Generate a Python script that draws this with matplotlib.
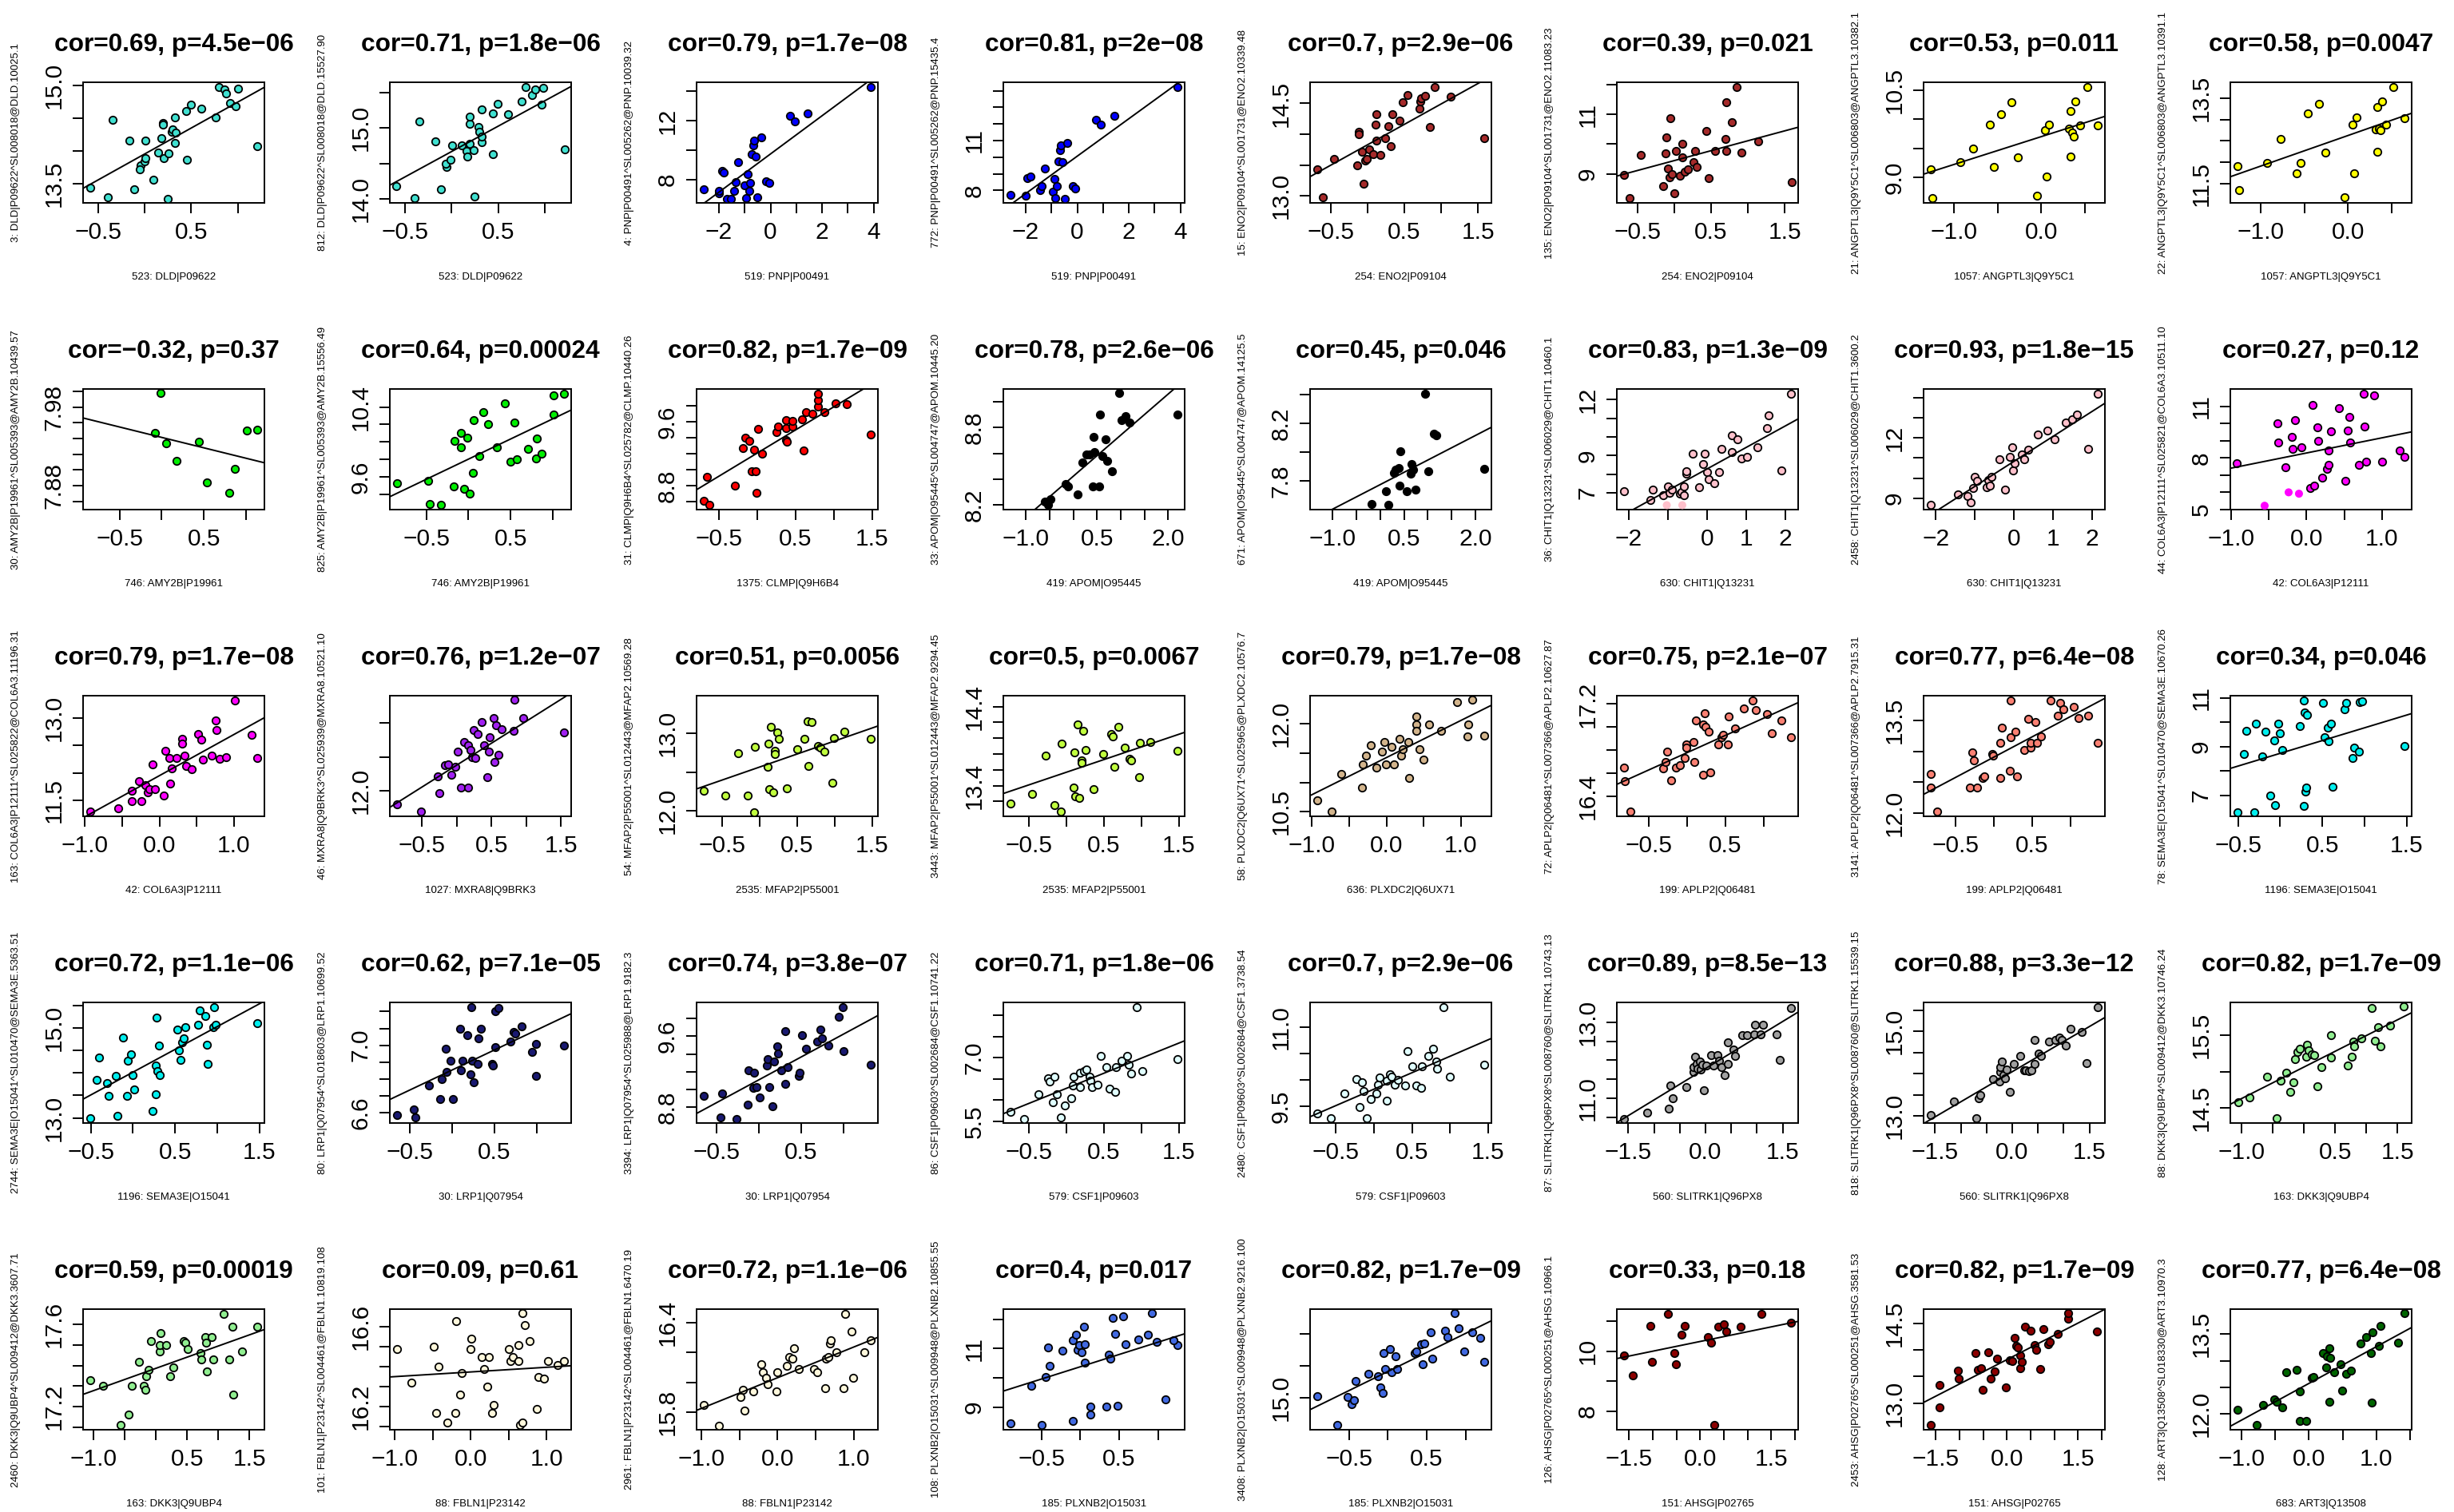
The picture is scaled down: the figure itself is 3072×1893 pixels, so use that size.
import numpy as np
import matplotlib
matplotlib.use("Agg")
import matplotlib.pyplot as plt

plt.rcParams['font.family'] = ['Liberation Sans', 'DejaVu Sans']

# ---------------- data (row-major, 5 rows x 8 columns) ----------------
p00_x = [-0.586,-0.394,-0.343,-0.166,-0.109,0.006,-0.046,-0.051,0.0,0.006,0.097,0.149,0.183,0.2,0.2,0.206,0.254,0.249,0.291,0.3,0.334,0.326,0.329,0.449,0.497,0.457,0.606,0.763,0.797,0.857,0.871,0.914,0.977,1.003,1.209]
p00_y = [13.44,13.29,14.48,14.16,13.41,14.16,13.78,13.72,13.84,13.89,13.56,13.98,14.20,14.43,14.41,13.89,13.97,13.27,14.29,14.33,14.28,14.13,14.52,14.61,14.71,13.87,14.65,14.51,14.98,14.94,14.88,14.73,14.69,14.96,14.07]
p01_x = [-0.595,-0.394,-0.344,-0.176,-0.117,-0.05,-0.059,-0.008,0.008,0.109,0.159,0.168,0.193,0.193,0.193,0.235,0.243,0.285,0.293,0.319,0.327,0.327,0.444,0.444,0.495,0.604,0.754,0.796,0.863,0.897,0.964,0.981,1.215]
p01_y = [14.18,14.01,15.09,14.81,14.13,14.45,14.50,14.55,14.75,14.75,14.67,14.60,14.78,15.06,15.16,14.69,14.03,15.01,14.94,14.80,14.88,15.26,14.63,15.20,15.34,15.19,15.37,15.58,15.46,15.54,15.33,15.56,14.70]
p02_x = [-2.59,-1.99,-1.99,-1.87,-1.81,-1.69,-1.54,-1.42,-1.36,-1.27,-1.02,-0.96,-0.87,-0.81,-0.78,-0.72,-0.66,-0.63,-0.57,-0.51,-0.36,-0.18,-0.06,0.75,0.93,1.45,3.89]
p02_y = [7.33,7.05,7.23,8.58,8.49,6.72,6.72,7.26,7.84,9.21,7.59,6.77,8.36,7.26,7.80,9.75,10.32,10.65,9.57,6.83,10.86,7.91,7.80,12.31,11.95,12.49,14.25]
p03_x = [-2.59,-1.99,-1.93,-1.81,-1.45,-1.39,-1.27,-0.96,-0.90,-0.84,-0.78,-0.72,-0.66,-0.63,-0.57,-0.48,-0.39,-0.18,-0.09,0.72,0.90,1.45,3.89]
p03_y = [7.74,7.66,8.72,8.83,8.0,8.24,9.32,7.92,8.67,7.55,8.27,9.75,10.44,10.71,9.69,7.50,10.84,8.24,8.11,12.25,11.96,12.48,14.21]
p04_x = [-0.686,-0.612,-0.454,-0.137,-0.116,-0.116,-0.053,-0.074,-0.032,-0.011,0.021,0.074,0.106,0.116,0.116,0.169,0.243,0.285,0.317,0.338,0.433,0.475,0.539,0.707,0.718,0.729,0.781,0.845,0.908,1.130,1.584]
p04_y = [13.435,12.97,13.60,13.49,14.04,14.0,13.19,13.72,13.57,13.60,13.75,13.68,14.15,13.90,14.33,13.66,13.93,14.13,13.81,14.33,14.22,14.52,14.63,14.42,14.53,14.59,14.62,14.12,14.76,14.61,13.93]
p05_x = [-0.686,-0.612,-0.454,-0.148,-0.116,-0.106,-0.084,-0.063,-0.053,-0.032,0.0,0.021,0.074,0.106,0.106,0.137,0.180,0.264,0.285,0.306,0.433,0.465,0.549,0.697,0.707,0.707,0.781,0.845,0.908,1.140,1.594]
p05_y = [8.96,8.19,9.63,8.58,9.70,10.24,9.18,8.88,10.88,9.00,8.33,9.78,8.94,10.01,9.56,9.06,9.15,9.40,9.78,9.22,10.45,8.85,9.78,10.17,9.78,11.42,10.75,11.93,9.72,10.10,8.73]
p06_x = [-1.268,-1.25,-0.929,-0.786,-0.589,-0.545,-0.464,-0.339,-0.268,-0.045,0.045,0.063,0.089,0.321,0.339,0.339,0.357,0.375,0.393,0.446,0.527,0.652]
p06_y = [9.14,8.65,9.26,9.49,9.91,9.18,10.08,10.29,9.34,8.69,9.81,9.01,9.91,9.84,10.14,9.36,9.77,9.70,10.30,9.89,10.55,9.90]
p07_x = [-1.268,-1.25,-0.929,-0.777,-0.589,-0.545,-0.464,-0.330,-0.259,-0.036,0.054,0.071,0.098,0.321,0.339,0.339,0.357,0.375,0.393,0.438,0.518,0.652]
p07_y = [11.92,11.35,11.98,12.54,11.74,11.98,13.14,13.36,12.22,11.18,12.88,11.74,13.05,12.77,13.28,12.24,12.79,12.74,13.42,12.88,13.76,13.02]

p10_x = [-0.018,-0.083,0.055,0.174,0.440,0.532,0.798,0.862,1.009,1.128]
p10_y = [7.998,7.947,7.934,7.912,7.936,7.884,7.871,7.901,7.950,7.951]
p11_x = [-0.844,-0.477,-0.459,-0.321,-0.174,-0.165,-0.092,-0.092,-0.055,-0.018,0.018,0.055,0.064,0.128,0.174,0.229,0.339,0.431,0.495,0.541,0.569,0.706,0.798,0.807,0.862,1.009,1.009,1.128]
p11_y = [9.53,9.555,9.29,9.28,9.49,10.01,9.94,10.10,9.47,10.05,9.41,9.65,10.25,9.84,10.34,10.20,9.94,10.44,9.78,10.22,9.80,9.92,9.81,10.04,9.87,10.31,10.53,10.55]
p12_x = [-0.700,-0.660,-0.629,-0.294,-0.193,-0.162,-0.102,-0.041,-0.071,-0.020,-0.010,0.010,0.061,0.254,0.274,0.376,0.376,0.376,0.386,0.457,0.457,0.589,0.609,0.640,0.721,0.792,0.792,0.792,0.873,1.025,1.168,1.482]
p12_y = [8.61,8.91,8.56,8.80,9.27,9.40,9.36,9.25,8.98,8.98,8.71,9.51,9.20,9.47,9.54,9.52,9.62,9.37,9.35,9.54,9.61,9.63,9.24,9.72,9.70,9.79,9.87,9.95,9.72,9.83,9.82,9.44]
p13_x = [-0.607,-0.492,-0.541,-0.164,-0.115,0.082,0.197,0.279,0.344,0.410,0.426,0.443,0.541,0.557,0.607,0.672,0.721,0.820,0.967,1.016,1.098,1.180,2.197]
p13_y = [8.225,8.24,8.20,8.36,8.34,8.28,8.53,8.59,8.59,8.34,8.73,8.61,8.34,8.90,8.58,8.71,8.54,8.46,9.07,8.86,8.89,8.84,8.90]
p14_x = [-0.18,0.114,0.179,0.294,0.408,0.424,0.555,0.39,0.326,0.653,0.685,0.636,0.750,0.946,1.011,1.126,1.175,2.186]
p14_y = [7.64,7.73,7.635,7.86,7.77,8.01,7.73,7.89,7.88,7.92,7.88,7.85,7.74,8.41,7.87,8.13,8.12,7.885]
p15_x = [-2.119,-1.446,-1.386,-1.129,-1.01,-0.950,-0.891,-0.693,-0.653,-0.594,-0.594,-0.535,-0.535,-0.376,-0.198,-0.059,-0.099,0.0,0.040,0.178,0.297,0.376,0.634,0.634,0.772,0.871,1.010,1.287,1.525,1.564,1.901,2.139]
p15_y = [7.10,6.63,7.17,6.89,7.34,7.0,7.17,6.94,7.03,6.86,7.34,8.03,8.17,9.11,7.31,9.11,8.56,8.10,7.74,7.51,8.10,9.34,10.07,9.17,9.89,8.84,8.91,9.46,10.49,11.17,8.21,12.31]
p15_plain_x = [-1.03,-0.634]
p15_plain_y = [6.34,6.34]
p16_x = [-2.13,-1.43,-1.195,-1.10,-1.036,-0.996,-0.936,-0.697,-0.657,-0.618,-0.578,-0.378,-0.219,-0.10,-0.04,-0.02,0.02,0.199,0.259,0.378,0.618,0.857,1.036,1.335,1.494,1.614,1.912,2.151]
p16_y = [8.66,9.19,9.09,8.79,9.49,10.06,9.85,9.56,9.89,9.62,10.06,10.95,9.42,11.04,11.52,10.38,10.75,11.18,10.95,11.41,12.18,12.37,11.94,12.78,12.94,13.16,11.44,14.20]
p17_x = [-0.921,-0.381,-0.370,-0.275,-0.194,-0.183,-0.148,-0.067,0.049,0.078,0.106,0.141,0.159,0.205,0.268,0.289,0.296,0.328,0.427,0.515,0.547,0.564,0.578,0.691,0.758,0.765,0.794,0.892,1.002,1.231,1.298]
p17_y = [7.71,10.04,8.89,7.46,9.25,8.51,10.23,8.62,6.26,11.11,6.38,9.81,8.98,6.85,7.38,8.44,7.58,9.56,10.89,6.65,9.59,10.41,8.90,7.58,11.73,9.82,7.81,11.67,7.78,8.44,8.05]
p17_plain_x = [-0.554,-0.236,-0.099]
p17_plain_y = [5.22,6.0,5.92]

p20_x = [-0.927,-0.552,-0.375,-0.365,-0.271,-0.240,-0.188,-0.156,-0.135,-0.063,-0.094,0.063,0.083,0.135,0.146,0.167,0.229,0.302,0.302,0.333,0.354,0.438,0.521,0.563,0.583,0.698,0.760,0.771,0.813,0.896,1.010,1.240,1.313]
p20_y = [11.29,11.36,11.49,11.68,11.85,11.49,11.77,11.65,11.70,11.70,12.15,11.59,12.40,12.27,11.80,12.08,12.27,12.62,12.53,12.32,12.12,12.06,12.70,12.60,12.24,12.32,12.95,12.78,12.25,12.28,13.31,12.69,12.27]
p21_x = [-0.860,-0.514,-0.279,-0.246,-0.168,-0.123,-0.078,-0.022,0.011,0.056,0.101,0.168,0.168,0.201,0.223,0.246,0.268,0.302,0.358,0.391,0.436,0.458,0.469,0.525,0.536,0.559,0.603,0.648,0.816,0.827,0.961,1.542]
p21_y = [11.80,11.69,12.21,11.97,12.38,12.39,12.24,12.35,12.58,12.05,12.72,12.05,12.67,12.60,12.49,12.90,12.48,12.84,13.01,12.67,12.20,12.58,12.79,13.07,12.42,12.97,12.53,12.91,12.88,13.34,13.07,12.86]
p22_x = [-0.745,-0.455,-0.290,-0.155,-0.072,-0.062,0.103,0.114,0.124,0.145,0.176,0.207,0.207,0.238,0.259,0.362,0.496,0.600,0.641,0.693,0.651,0.776,0.807,0.858,0.972,0.993,1.127,1.479]
p22_y = [12.26,12.19,12.74,12.19,11.98,12.83,12.57,12.87,12.28,13.09,12.23,12.78,12.73,13.02,12.93,12.29,12.80,12.93,13.16,13.15,12.58,12.84,12.82,12.77,12.36,12.94,13.03,12.93]
p23_x = [-0.745,-0.455,-0.279,-0.165,-0.072,-0.062,0.093,0.103,0.114,0.145,0.165,0.207,0.207,0.227,0.259,0.362,0.486,0.600,0.620,0.641,0.693,0.776,0.838,0.858,0.972,0.982,1.117,1.479]
p23_y = [13.17,13.30,13.78,13.15,13.07,13.93,13.38,13.82,13.27,14.17,13.25,13.72,13.69,14.09,13.85,13.36,13.80,14.05,14.02,13.64,14.14,13.88,13.74,13.72,13.51,13.94,13.95,13.84]
p24_x = [-0.927,-0.740,-0.604,-0.323,-0.313,-0.271,-0.208,-0.135,-0.063,-0.031,-0.010,0.073,0.104,0.177,0.198,0.219,0.292,0.302,0.406,0.406,0.406,0.448,0.5,0.573,0.729,0.948,1.083,1.094,1.156,1.313]
p24_y = [10.69,10.50,11.14,10.91,11.31,11.46,11.63,11.25,11.52,11.68,11.31,11.61,11.31,11.74,11.46,11.57,11.68,11.07,12.12,11.99,11.88,11.56,11.39,11.98,11.88,12.36,11.78,11.99,12.40,11.79]
p25_x = [-0.821,-0.811,-0.740,-0.314,-0.274,-0.253,-0.203,-0.142,-0.091,-0.030,-0.010,-0.010,0.091,0.101,0.122,0.213,0.213,0.233,0.243,0.284,0.304,0.405,0.456,0.476,0.537,0.547,0.628,0.740,0.861,0.902,1.044,1.104,1.236,1.358]
p25_y = [16.65,16.53,16.27,16.64,16.70,16.79,16.54,16.65,16.67,16.73,16.85,16.82,16.87,16.70,17.06,16.59,17.02,17.12,17.0,16.96,16.61,16.85,16.91,16.93,16.85,17.09,16.99,17.16,17.23,17.15,17.11,16.95,17.06,16.91]
p26_x = [-0.821,-0.821,-0.740,-0.314,-0.274,-0.263,-0.213,-0.142,-0.122,-0.020,-0.010,0.091,0.091,0.111,0.213,0.223,0.223,0.284,0.304,0.395,0.456,0.486,0.486,0.547,0.567,0.618,0.740,0.841,0.871,0.912,1.044,1.104,1.236,1.358]
p26_y = [12.64,12.42,12.03,12.41,12.98,12.85,12.42,12.57,12.60,12.95,12.93,12.57,13.14,13.38,12.69,13.22,13.82,13.32,12.59,13.02,13.52,13.06,13.14,13.47,13.14,13.24,13.82,13.57,13.78,13.68,13.71,13.53,13.57,13.14]
p27_x = [-0.506,-0.432,-0.405,-0.304,-0.285,-0.212,-0.175,-0.120,-0.074,-0.064,-0.028,-0.009,0.028,0.23,0.276,0.276,0.285,0.294,0.304,0.322,0.506,0.524,0.561,0.570,0.598,0.616,0.764,0.782,0.856,0.874,0.929,0.938,0.975,1.472]
p27_y = [6.32,8.70,9.66,6.32,9.93,8.60,9.60,7.0,9.25,6.60,9.95,9.55,8.86,9.84,6.56,10.89,10.39,7.14,7.31,10.31,10.78,9.40,9.77,9.22,9.93,7.36,10.53,10.78,8.53,8.95,8.78,10.83,10.86,9.03]

p30_x = [-0.506,-0.432,-0.405,-0.304,-0.285,-0.202,-0.184,-0.120,-0.074,-0.064,-0.028,-0.009,0.018,0.230,0.267,0.267,0.276,0.285,0.304,0.322,0.524,0.543,0.561,0.580,0.598,0.616,0.773,0.791,0.856,0.874,0.883,0.948,0.957,0.984,1.472]
p30_y = [13.0,13.84,14.35,13.78,13.49,13.94,13.04,14.79,13.49,14.28,14.42,13.95,13.64,13.15,13.53,14.16,15.24,14.04,14.61,13.96,14.97,14.51,14.29,14.69,14.77,15.02,15.08,15.40,15.28,14.63,14.20,15.02,15.46,15.08,15.12]
p31_x = [-0.651,-0.450,-0.431,-0.275,-0.138,-0.119,-0.073,-0.064,-0.018,0.009,0.092,0.101,0.119,0.183,0.220,0.239,0.257,0.303,0.312,0.339,0.468,0.486,0.505,0.505,0.550,0.688,0.725,0.743,0.817,0.945,0.991,0.991,1.321,0.229]
p31_y = [6.584,6.62,6.57,6.76,6.68,6.80,6.98,6.84,6.91,6.68,7.10,6.85,6.91,7.06,6.83,6.91,6.78,6.89,7.04,7.10,6.89,6.88,6.99,7.20,7.22,7.02,7.08,7.07,7.11,6.96,7.01,6.82,7.0,7.225]
p32_x = [-0.651,-0.450,-0.431,-0.266,-0.128,-0.119,-0.055,-0.064,-0.028,0.009,0.092,0.101,0.119,0.165,0.183,0.220,0.229,0.266,0.312,0.312,0.339,0.468,0.486,0.505,0.560,0.688,0.725,0.743,0.826,0.945,0.991,1.0,1.321]
p32_y = [8.93,8.69,8.96,8.67,8.83,9.22,9.19,9.02,9.03,8.91,9.27,9.34,9.03,8.81,9.32,9.49,9.41,9.22,9.66,9.06,9.25,9.15,9.19,9.61,9.46,9.54,9.68,9.58,9.50,9.82,9.93,9.43,9.28]
p33_x = [-0.745,-0.569,-0.372,-0.248,-0.228,-0.176,-0.165,-0.124,-0.072,-0.021,0.062,0.083,0.093,0.186,0.186,0.238,0.269,0.310,0.321,0.341,0.414,0.455,0.527,0.579,0.651,0.662,0.734,0.807,0.827,0.858,0.941,1.013,1.479]
p33_y = [5.72,5.56,6.15,6.51,6.44,5.96,6.56,6.15,5.59,5.88,6.05,6.34,6.56,6.65,6.31,6.69,6.73,6.56,6.46,6.32,6.37,7.04,6.78,6.27,6.19,6.79,6.93,7.04,6.84,6.64,8.19,6.69,6.98]
p34_x = [-0.745,-0.571,-0.388,-0.235,-0.194,-0.153,-0.133,-0.092,-0.041,0.031,0.051,0.071,0.163,0.163,0.214,0.235,0.276,0.316,0.408,0.439,0.5,0.561,0.622,0.633,0.714,0.776,0.816,0.827,0.918,1.0,1.449]
p34_y = [9.36,9.27,9.74,10.01,9.48,9.96,9.79,9.28,9.64,9.75,9.91,10.05,9.60,9.99,10.10,10.06,9.91,10.0,9.89,10.55,10.26,9.89,9.85,10.26,10.46,10.59,10.35,10.21,11.38,10.06,10.29]
p35_x = [-1.584,-1.131,-0.709,-0.679,-0.633,-0.377,-0.241,-0.226,-0.196,-0.166,-0.151,-0.106,-0.090,-0.060,-0.030,0.015,0.106,0.151,0.226,0.256,0.302,0.377,0.437,0.437,0.543,0.573,0.709,0.799,0.950,0.965,1.116,1.071,1.373,1.448,1.659]
p35_y = [10.47,10.63,10.74,11.33,11.01,11.29,11.69,11.82,12.09,11.90,11.78,11.97,11.76,11.88,11.22,11.87,12.13,11.87,12.13,11.99,11.82,11.61,11.90,12.46,12.29,12.11,12.65,12.65,12.67,12.93,12.94,12.67,12.67,12.01,13.36]
p36_x = [-1.584,-1.131,-0.694,-0.649,-0.618,-0.377,-0.256,-0.226,-0.226,-0.196,-0.166,-0.136,-0.106,-0.045,0.030,0.151,0.226,0.256,0.332,0.377,0.437,0.437,0.513,0.558,0.709,0.830,0.920,0.965,1.041,1.131,1.357,1.448,1.659]
p36_y = [13.03,13.35,12.94,13.43,13.49,13.87,13.81,14.04,14.16,14.29,13.97,13.90,14.10,13.57,14.23,14.43,14.08,14.08,14.06,14.08,14.23,14.79,14.47,14.43,14.77,14.79,14.86,14.80,14.67,15.06,14.98,14.25,15.57]
p37_x = [-1.057,-0.87,-0.584,-0.435,-0.373,-0.286,-0.224,-0.162,-0.137,-0.099,-0.062,0.037,0.05,0.075,0.124,0.162,0.211,0.274,0.435,0.435,0.709,0.771,0.796,0.808,0.920,1.082,1.144,1.194,1.231,1.38,1.604]
p37_y = [14.58,14.65,14.93,14.36,14.88,14.99,14.72,14.85,15.17,15.27,15.32,15.21,15.37,15.29,15.24,15.23,14.80,15.06,15.19,15.50,15.08,15.21,15.42,15.35,15.46,15.88,15.43,15.61,15.35,15.63,15.90]

p40_x = [-1.05,-0.85,-0.565,-0.43,-0.38,-0.267,-0.19,-0.168,-0.155,-0.118,-0.081,0.056,0.068,0.081,0.168,0.23,0.28,0.441,0.466,0.516,0.714,0.727,0.789,0.801,0.814,0.888,0.925,1.087,1.174,1.224,1.236,1.373,1.621]
p40_y = [17.33,17.30,17.11,17.16,17.30,17.42,17.30,17.28,17.35,17.38,17.52,17.47,17.50,17.56,17.50,17.35,17.39,17.52,17.51,17.48,17.46,17.43,17.54,17.51,17.37,17.54,17.43,17.65,17.43,17.59,17.26,17.47,17.59]
p41_x = [-0.972,-0.778,-0.491,-0.461,-0.42,-0.307,-0.205,-0.194,-0.143,-0.123,0.0,0.010,0.143,0.174,0.215,0.235,0.276,0.297,0.502,0.522,0.553,0.625,0.625,0.645,0.676,0.686,0.717,0.778,0.870,0.890,0.962,1.013,1.146,1.228]
p41_y = [16.49,16.32,16.50,16.17,16.40,16.12,16.17,16.63,16.26,16.37,16.49,16.54,16.45,16.39,16.30,16.45,16.17,16.21,16.49,16.43,16.45,16.43,16.51,16.11,16.12,16.67,16.61,16.53,16.19,16.35,16.34,16.43,16.41,16.43]
p42_x = [-0.969,-0.765,-0.49,-0.439,-0.459,-0.316,-0.214,-0.194,-0.153,-0.133,-0.01,0.0,0.122,0.153,0.194,0.214,0.276,0.480,0.520,0.622,0.633,0.663,0.684,0.704,0.776,0.867,0.969,0.990,0.888,1.143,1.224]
p42_y = [15.85,15.71,15.90,15.81,15.95,15.94,16.12,16.07,16.03,15.99,15.94,16.07,16.11,16.17,16.16,16.23,16.09,16.09,16.07,15.96,16.16,16.17,16.26,16.28,16.20,15.96,16.34,16.03,16.46,16.20,16.28]
p43_x = [-0.90,-0.63,-0.50,-0.45,-0.40,-0.42,-0.23,-0.10,-0.10,-0.06,-0.04,-0.02,0.02,0.05,0.06,0.06,0.13,0.13,0.33,0.37,0.39,0.42,0.45,0.48,0.55,0.58,0.75,0.87,0.92,0.98,1.10,1.25,1.20]
p43_y = [8.45,9.73,8.40,10.04,10.40,11.04,10.93,8.52,11.29,11.47,10.97,11.13,10.88,11.75,10.52,11.16,9.02,8.75,9.02,10.79,10.65,12.06,11.49,9.06,12.09,11.15,11.31,11.47,12.20,11.22,9.27,11.11,11.29]
p44_x = [-0.91,-0.65,-0.52,-0.47,-0.44,-0.42,-0.25,-0.13,-0.10,-0.07,-0.06,-0.04,0.03,0.05,0.10,0.12,0.34,0.37,0.43,0.45,0.47,0.57,0.55,0.74,0.77,0.86,0.91,0.98,1.09,1.19,1.24]
p44_y = [15.03,14.58,15.01,14.90,14.97,15.26,15.38,15.34,15.16,15.08,15.70,15.45,15.76,15.40,15.65,15.45,15.70,15.72,15.84,15.53,15.85,15.61,16.02,16.05,15.95,16.32,16.09,15.72,16.02,15.94,15.56]
p45_x = [-1.607,-1.426,-1.049,-1.016,-0.672,-0.541,-0.508,-0.393,-0.328,0.164,0.230,0.295,0.377,0.508,0.557,0.852,1.295,1.918]
p45_y = [9.86,9.20,10.86,9.64,11.26,9.95,9.56,10.55,10.86,10.48,10.28,7.55,10.82,10.91,10.66,10.82,11.24,10.95]
p46_x = [-1.60,-1.42,-1.42,-1.04,-1.01,-0.67,-0.62,-0.54,-0.51,-0.39,-0.34,-0.26,-0.20,-0.02,0.07,0.11,0.16,0.20,0.24,0.28,0.29,0.31,0.39,0.51,0.59,0.62,0.70,0.77,0.88,0.91,1.08,1.29,1.29,1.91]
p46_y = [12.60,12.93,13.35,13.61,13.46,13.94,13.63,13.66,13.26,13.96,13.46,13.60,13.84,13.30,13.81,13.79,14.23,14.08,14.04,13.90,13.66,13.78,14.43,14.36,14.09,14.0,13.64,14.39,14.11,14.15,14.30,14.58,14.69,14.34]
p47_x = [-1.057,-0.770,-0.678,-0.517,-0.483,-0.391,-0.333,-0.184,-0.138,-0.138,-0.046,0.046,0.069,0.207,0.253,0.264,0.299,0.310,0.299,0.368,0.471,0.494,0.552,0.621,0.759,0.851,0.920,0.931,0.943,1.034,1.057,1.322,1.414]
p47_y = [12.08,11.80,12.17,12.27,12.23,12.13,12.78,12.83,11.87,12.43,11.87,12.68,12.70,13.14,12.87,13.09,13.23,13.05,12.23,12.79,12.94,12.44,12.75,12.82,13.33,13.45,13.14,12.22,13.53,13.28,13.65,13.34,13.89]

X_DATA = [p00_x,p01_x,p02_x,p03_x,p04_x,p05_x,p06_x,p07_x,
          p10_x,p11_x,p12_x,p13_x,p14_x,p15_x,p16_x,p17_x,
          p20_x,p21_x,p22_x,p23_x,p24_x,p25_x,p26_x,p27_x,
          p30_x,p31_x,p32_x,p33_x,p34_x,p35_x,p36_x,p37_x,
          p40_x,p41_x,p42_x,p43_x,p44_x,p45_x,p46_x,p47_x]
Y_DATA = [p00_y,p01_y,p02_y,p03_y,p04_y,p05_y,p06_y,p07_y,
          p10_y,p11_y,p12_y,p13_y,p14_y,p15_y,p16_y,p17_y,
          p20_y,p21_y,p22_y,p23_y,p24_y,p25_y,p26_y,p27_y,
          p30_y,p31_y,p32_y,p33_y,p34_y,p35_y,p36_y,p37_y,
          p40_y,p41_y,p42_y,p43_y,p44_y,p45_y,p46_y,p47_y]
PLAIN = {13: (p15_plain_x, p15_plain_y), 15: (p17_plain_x, p17_plain_y)}

TITLES = ["cor=0.69, p=4.5e\u221206","cor=0.71, p=1.8e\u221206","cor=0.79, p=1.7e\u221208","cor=0.81, p=2e\u221208",
          "cor=0.7, p=2.9e\u221206","cor=0.39, p=0.021","cor=0.53, p=0.011","cor=0.58, p=0.0047",
          "cor=\u22120.32, p=0.37","cor=0.64, p=0.00024","cor=0.82, p=1.7e\u221209","cor=0.78, p=2.6e\u221206",
          "cor=0.45, p=0.046","cor=0.83, p=1.3e\u221209","cor=0.93, p=1.8e\u221215","cor=0.27, p=0.12",
          "cor=0.79, p=1.7e\u221208","cor=0.76, p=1.2e\u221207","cor=0.51, p=0.0056","cor=0.5, p=0.0067",
          "cor=0.79, p=1.7e\u221208","cor=0.75, p=2.1e\u221207","cor=0.77, p=6.4e\u221208","cor=0.34, p=0.046",
          "cor=0.72, p=1.1e\u221206","cor=0.62, p=7.1e\u221205","cor=0.74, p=3.8e\u221207","cor=0.71, p=1.8e\u221206",
          "cor=0.7, p=2.9e\u221206","cor=0.89, p=8.5e\u221213","cor=0.88, p=3.3e\u221212","cor=0.82, p=1.7e\u221209",
          "cor=0.59, p=0.00019","cor=0.09, p=0.61","cor=0.72, p=1.1e\u221206","cor=0.4, p=0.017",
          "cor=0.82, p=1.7e\u221209","cor=0.33, p=0.18","cor=0.82, p=1.7e\u221209","cor=0.77, p=6.4e\u221208"]

XLABELS = ["523: DLD|P09622","523: DLD|P09622","519: PNP|P00491","519: PNP|P00491",
           "254: ENO2|P09104","254: ENO2|P09104","1057: ANGPTL3|Q9Y5C1","1057: ANGPTL3|Q9Y5C1",
           "746: AMY2B|P19961","746: AMY2B|P19961","1375: CLMP|Q9H6B4","419: APOM|O95445",
           "419: APOM|O95445","630: CHIT1|Q13231","630: CHIT1|Q13231","42: COL6A3|P12111",
           "42: COL6A3|P12111","1027: MXRA8|Q9BRK3","2535: MFAP2|P55001","2535: MFAP2|P55001",
           "636: PLXDC2|Q6UX71","199: APLP2|Q06481","199: APLP2|Q06481","1196: SEMA3E|O15041",
           "1196: SEMA3E|O15041","30: LRP1|Q07954","30: LRP1|Q07954","579: CSF1|P09603",
           "579: CSF1|P09603","560: SLITRK1|Q96PX8","560: SLITRK1|Q96PX8","163: DKK3|Q9UBP4",
           "163: DKK3|Q9UBP4","88: FBLN1|P23142","88: FBLN1|P23142","185: PLXNB2|O15031",
           "185: PLXNB2|O15031","151: AHSG|P02765","151: AHSG|P02765","683: ART3|Q13508"]

YLABELS = ["3: DLD|P09622^SL008018@DLD.10025.1","812: DLD|P09622^SL008018@DLD.15527.90",
           "4: PNP|P00491^SL005262@PNP.10039.32","772: PNP|P00491^SL005262@PNP.15435.4",
           "15: ENO2|P09104^SL001731@ENO2.10339.48","135: ENO2|P09104^SL001731@ENO2.11083.23",
           "21: ANGPTL3|Q9Y5C1^SL006803@ANGPTL3.10382.1","22: ANGPTL3|Q9Y5C1^SL006803@ANGPTL3.10391.1",
           "30: AMY2B|P19961^SL005393@AMY2B.10439.57","825: AMY2B|P19961^SL005393@AMY2B.15556.49",
           "31: CLMP|Q9H6B4^SL025782@CLMP.10440.26","33: APOM|O95445^SL004747@APOM.10445.20",
           "671: APOM|O95445^SL004747@APOM.14125.5","36: CHIT1|Q13231^SL006029@CHIT1.10460.1",
           "2458: CHIT1|Q13231^SL006029@CHIT1.3600.2","44: COL6A3|P12111^SL025821@COL6A3.10511.10",
           "163: COL6A3|P12111^SL025822@COL6A3.11196.31","46: MXRA8|Q9BRK3^SL025939@MXRA8.10521.10",
           "54: MFAP2|P55001^SL012443@MFAP2.10569.28","3443: MFAP2|P55001^SL012443@MFAP2.9294.45",
           "58: PLXDC2|Q6UX71^SL025965@PLXDC2.10576.7","72: APLP2|Q06481^SL007366@APLP2.10627.87",
           "3141: APLP2|Q06481^SL007366@APLP2.7915.31","78: SEMA3E|O15041^SL010470@SEMA3E.10670.26",
           "2744: SEMA3E|O15041^SL010470@SEMA3E.5363.51","80: LRP1|Q07954^SL018603@LRP1.10699.52",
           "3394: LRP1|Q07954^SL025988@LRP1.9182.3","86: CSF1|P09603^SL002684@CSF1.10741.22",
           "2480: CSF1|P09603^SL002684@CSF1.3738.54","87: SLITRK1|Q96PX8^SL008760@SLITRK1.10743.13",
           "818: SLITRK1|Q96PX8^SL008760@SLITRK1.15539.15","88: DKK3|Q9UBP4^SL009412@DKK3.10746.24",
           "2460: DKK3|Q9UBP4^SL009412@DKK3.3607.71","101: FBLN1|P23142^SL004461@FBLN1.10819.108",
           "2961: FBLN1|P23142^SL004461@FBLN1.6470.19","108: PLXNB2|O15031^SL009948@PLXNB2.10855.55",
           "3408: PLXNB2|O15031^SL009948@PLXNB2.9216.100","126: AHSG|P02765^SL000251@AHSG.10966.1",
           "2453: AHSG|P02765^SL000251@AHSG.3581.53","128: ART3|Q13508^SL018330@ART3.10970.3"]

COLORS = ["#40E0D0","#40E0D0","#0000FF","#0000FF","#A52A2A","#A52A2A","#FFFF00","#FFFF00",
          "#00EE00","#00EE00","#FF0000","#000000","#000000","#FFC0CB","#FFC0CB","#FF00FF",
          "#FF00FF","#A020F0","#C0FF3E","#C0FF3E","#D2B48C","#FA8072","#FA8072","#00EEEE",
          "#00EEEE","#191970","#191970","#E0FFFF","#E0FFFF","#A0A0A0","#A0A0A0","#90EE90",
          "#90EE90","#FFF8DC","#FFF8DC","#4169E1","#4169E1","#8B0000","#8B0000","#006400"]

XLIMS = [(-0.657,1.283),(-0.66,1.28),(-2.86,4.16),(-2.86,4.16),(-0.78,1.68),(-0.78,1.68),(-1.35,0.73),(-1.35,0.73),
         (-0.927,1.211),(-0.927,1.211),(-0.792,1.574),(-1.475,2.344),(-1.468,2.333),(-2.30,2.32),(-2.31,2.33),(-1.005,1.390),
         (-1.021,1.406),(-0.961,1.642),(-0.838,1.572),(-0.838,1.572),(-1.021,1.406),(-0.912,1.449),(-0.912,1.449),(-0.589,1.555),
         (-0.589,1.555),(-0.734,1.404),(-0.734,1.404),(-0.838,1.572),(-0.837,1.541),(-1.719,1.795),(-1.719,1.795),(-1.175,1.723),
         (-1.161,1.733),(-1.064,1.320),(-1.061,1.316),(-0.99,1.34),(-1.0,1.33),(-1.754,2.066),(-1.754,2.066),(-1.161,1.517)]
YLIMS = [(13.204,15.049),(13.94,15.64),(6.41,14.58),(7.23,14.50),(12.88,14.84),(8.01,12.08),(8.56,10.63),(11.05,13.86),
         (7.849,8.003),(9.226,10.603),(8.501,10.006),(8.16,9.10),(7.60,8.439),(6.09,12.56),(8.42,14.42),(4.98,12.01),
         (11.205,13.40),(11.62,13.40),(11.92,13.49),(13.01,14.535),(10.42,12.47),(16.225,17.27),(11.95,13.89),(6.13,11.08),
         (12.88,15.57),(6.537,7.253),(8.62,9.98),(5.456,8.305),(9.18,11.46),(10.35,13.51),(12.83,15.68),(14.29,15.95),
         (17.086,17.674),(16.083,16.687),(15.68,16.49),(8.22,12.34),(14.50,16.38),(7.37,11.40),(12.50,14.76),(11.70,13.965)]

M = "\u2212"
XT_A = [-0.5,0,0.5,1.0];            XL_A = [M+"0.5","","0.5",""]
XT_B = [-2,-1,0,1,2,3,4];           XL_B = [M+"2","","0","","2","","4"]
XT_C = [-0.5,0,0.5,1,1.5];          XL_C = [M+"0.5","","0.5","","1.5"]
XT_D = [-1,-0.5,0,0.5];             XL_D = [M+"1.0","","0.0",""]
XT_E = [-1,-0.5,0,0.5,1,1.5,2];     XL_E = [M+"1.0","","","0.5","","","2.0"]
XT_F = [-2,-1,0,1,2];               XL_F = [M+"2","","0","1","2"]
XT_G = [-1,-0.5,0,0.5,1];           XL_G = [M+"1.0","","0.0","","1.0"]
XT_H = [-1.5,-1,-0.5,0,0.5,1,1.5];  XL_H = [M+"1.5","","","0.0","","","1.5"]
XT_I = [-1,-0.5,0,0.5,1,1.5];       XL_I = [M+"1.0","","","0.5","","1.5"]
XT_J = [-1.5,-1,-0.5,0,0.5,1,1.5,2]; XL_J = [M+"1.5","","","0.0","","","1.5",""]
XT_K = [-1,-0.5,0,0.5,1,1.5];       XL_K = [M+"1.0","","0.0","","1.0",""]

XTICKS = [XT_A,XT_A,XT_B,XT_B,XT_C,XT_C,XT_D,XT_D,
          XT_A,XT_A,XT_C,XT_E,XT_E,XT_F,XT_F,XT_G,
          XT_G,XT_C,XT_C,XT_C,XT_G,XT_A,XT_A,XT_C,
          XT_C,XT_A,XT_A,XT_C,XT_C,XT_H,XT_H,XT_I,
          XT_I,XT_G,XT_G,XT_A,XT_A,XT_J,XT_J,XT_K]
XTLABS = [XL_A,XL_A,XL_B,XL_B,XL_C,XL_C,XL_D,XL_D,
          XL_A,XL_A,XL_C,XL_E,XL_E,XL_F,XL_F,XL_G,
          XL_G,XL_C,XL_C,XL_C,XL_G,XL_A,XL_A,XL_C,
          XL_C,XL_A,XL_A,XL_C,XL_C,XL_H,XL_H,XL_I,
          XL_I,XL_G,XL_G,XL_A,XL_A,XL_J,XL_J,XL_K]

YTICKS = [[13.5,14,14.5,15],[14,14.5,15,15.5],[8,10,12,14],[8,9,10,11,12,13,14],
          [13,13.5,14,14.5],[9,10,11,12],[9,9.5,10,10.5],[11.5,12,12.5,13,13.5],
          [7.86,7.88,7.90,7.92,7.94,7.96,7.98,8.00],[9.4,9.6,9.8,10.0,10.2,10.4],[8.6,8.8,9.0,9.2,9.4,9.6,9.8],[8.2,8.4,8.6,8.8,9.0],
          [7.8,8.0,8.2,8.4],[7,8,9,10,11,12],[9,10,11,12,13,14],[5,6,7,8,9,10,11],
          [11.5,12,12.5,13],[12,12.5,13],[12,12.5,13],[13.2,13.4,13.6,13.8,14.0,14.2,14.4],
          [10.5,11,11.5,12],[16.4,16.6,16.8,17.0,17.2],[12,12.5,13,13.5],[7,8,9,10,11],
          [13,13.5,14,14.5,15,15.5],[6.6,6.7,6.8,6.9,7.0,7.1,7.2],[8.8,9.0,9.2,9.4,9.6,9.8],[5.5,6,6.5,7,7.5,8],
          [9.5,10,10.5,11],[10.5,11,11.5,12,12.5,13],[13,13.5,14,14.5,15,15.5],[14.5,15,15.5],
          [17.1,17.2,17.3,17.4,17.5,17.6],[16.1,16.2,16.3,16.4,16.5,16.6],[15.8,16.0,16.2,16.4],[9,10,11,12],
          [15,15.5,16],[8,9,10,11],[13,13.5,14,14.5],[12,12.5,13,13.5]]
YTLABS = [["13.5","","","15.0"],["14.0","","15.0",""],["8","","12",""],["8","","","11","","",""],
          ["13.0","","","14.5"],["9","","11",""],["9.0","","","10.5"],["11.5","","","","13.5"],
          ["","7.88","","","","","7.98",""],["","9.6","","","","10.4"],["","8.8","","","","9.6",""],["8.2","","","8.8",""],
          ["7.8","","8.2",""],["7","","9","","","12"],["9","","","12","",""],["5","","","8","","","11"],
          ["11.5","","","13.0"],["12.0","",""],["12.0","","13.0"],["","13.4","","","","","14.4"],
          ["10.5","","","12.0"],["16.4","","","","17.2"],["12.0","","","13.5"],["7","","9","","11"],
          ["13.0","","","","15.0",""],["6.6","","","","7.0","",""],["8.8","","","","9.6",""],["5.5","","","7.0","",""],
          ["9.5","","","11.0"],["","11.0","","","","13.0"],["13.0","","","","15.0",""],["14.5","","15.5"],
          ["","17.2","","","","17.6"],["","16.2","","","","16.6"],["15.8","","","16.4"],["9","","11",""],
          ["15.0","",""],["8","","10",""],["13.0","","","14.5"],["12.0","","","13.5"]]

# ---------------- drawing ----------------
W, H = 3072, 1893
CELL = 384
BOX_L, BOX_W = 104.3, 226.4
BOX_T, BOX_H = 103.3, 151.0

fig = plt.figure(figsize=(W / 100, H / 100), dpi=100)
fig.patch.set_facecolor("white")

for i in range(40):
    r, c = divmod(i, 8)
    left = (c * CELL + BOX_L) / W
    top = r * CELL + BOX_T
    bottom = 1 - (top + BOX_H) / H
    ax = fig.add_axes([left, bottom, BOX_W / W, BOX_H / H])
    x = np.array(X_DATA[i], float)
    y = np.array(Y_DATA[i], float)
    ax.scatter(x, y, s=46, c=COLORS[i], edgecolors="black", linewidths=1.3, zorder=3)
    fx, fy = x, y
    if i in PLAIN:
        px, py = np.array(PLAIN[i][0]), np.array(PLAIN[i][1])
        ax.scatter(px, py, s=52, c=COLORS[i], edgecolors="none", zorder=3)
        fx, fy = np.concatenate([x, px]), np.concatenate([y, py])
    coef = np.polyfit(fx, fy, 1)
    xx = np.array(XLIMS[i])
    ax.plot(xx, np.polyval(coef, xx), color="black", lw=1.4, zorder=4)
    ax.set_xlim(*XLIMS[i])
    ax.set_ylim(*YLIMS[i])
    ax.set_xticks(XTICKS[i])
    ax.set_xticklabels(XTLABS[i])
    ax.set_yticks(YTICKS[i])
    ax.set_yticklabels(YTLABS[i], rotation=90, va="center")
    ax.tick_params(axis="both", length=9.1, width=1.4, labelsize=21.5, color="black")
    ax.tick_params(axis="x", pad=7.5)
    ax.tick_params(axis="y", pad=7.0)
    for sp in ax.spines.values():
        sp.set_linewidth(1.4)
    ax.set_title(TITLES[i], fontsize=22.8, fontweight="bold", pad=28.5)
    fig.text((c * CELL + BOX_L + BOX_W / 2) / W, 1 - (r * CELL + 346.7) / H, XLABELS[i],
             ha="center", va="center", fontsize=9.5)
    fig.text((c * CELL + 20) / W, 1 - (top + BOX_H / 2) / H, YLABELS[i],
             ha="center", va="center", rotation=90, fontsize=9.5)

fig.savefig("out.png", dpi=100, facecolor="white")
